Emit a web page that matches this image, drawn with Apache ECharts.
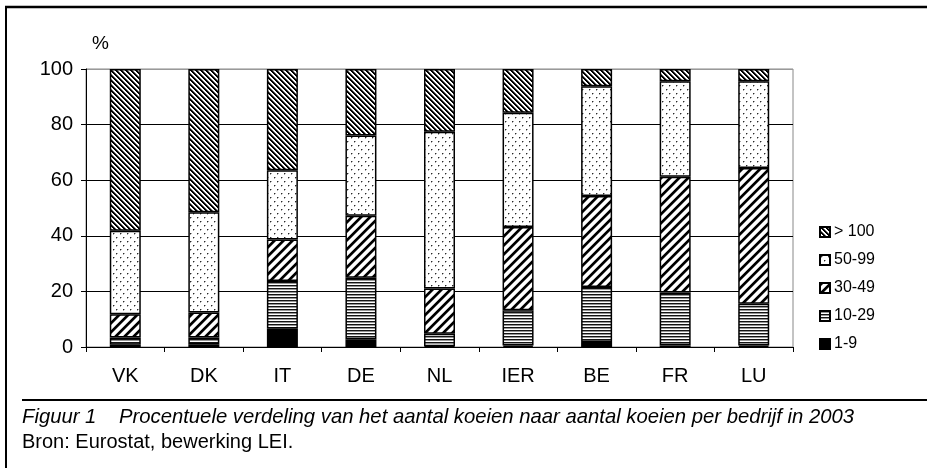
<!DOCTYPE html>
<html><head><meta charset="utf-8">
<script src="https://cdn.jsdelivr.net/npm/echarts@6/dist/echarts.min.js"></script>
<style>html,body{margin:0;padding:0;background:#fff}#c{width:927px;height:468px}</style>
</head><body><div id="c"></div>
<script>
const categories = ['VK','DK','IT','DE','NL','IER','BE','FR','LU'];
const s1_9    = [0.8, 1.0, 6.6, 2.8, 0.3, 0.5, 1.8, 0.6, 0.5];
const s10_29  = [2.6, 2.4, 17.1, 22.1, 4.5, 12.7, 19.8, 19.0, 15.1];
const s30_49  = [8.4, 9.0, 15.0, 22.3, 16.2, 30.0, 32.7, 41.6, 48.8];
const s50_99  = [30.0, 36.1, 24.9, 28.9, 56.4, 41.1, 39.5, 34.4, 31.2];
const s100    = [58.2, 51.5, 36.4, 23.9, 22.6, 15.7, 6.2, 4.4, 4.4];
const seriesNames = ['1-9','10-29','30-49','50-99','> 100'];
const legendOrder = ['> 100','50-99','30-49','10-29','1-9'];

const FONT = "'Liberation Sans', Arial, sans-serif";

function tile(w,h,fn){
  const c=document.createElement('canvas'); c.width=w; c.height=h;
  const g=c.getContext('2d'); const img=g.createImageData(w,h);
  for(let y=0;y<h;y++)for(let x=0;x<w;x++){
    const v=fn(x,y); const i=(y*w+x)*4;
    img.data[i]=img.data[i+1]=img.data[i+2]=v; img.data[i+3]=255;
  }
  g.putImageData(img,0,0); return {image:c, repeat:'repeat'};
}
const patBack = tile(5,5,(x,y)=>{const d=((x-y)%5+5)%5; return d<2?0:(d==2?110:255);});
const patFwd  = tile(9,9,(x,y)=>{const d=(x+y)%9; return d<3?0:(d==3?120:(d==8?180:255));});
const patDots = tile(7,8,(x,y)=>{
  if((x==1&&y==1)||(x==4&&y==5)) return 40;
  if((x==2&&y==1)||(x==1&&y==2)||(x==5&&y==5)||(x==4&&y==6)) return 170;
  return 255;
});
const patHorz = tile(4,3,(x,y)=>y==0?20:(y==1?150:255));
const fills = ['#000', patHorz, patFwd, patDots, patBack];
const dataSets = [s1_9, s10_29, s30_49, s50_99, s100];

const chart = echarts.init(document.getElementById('c'), null, {renderer:'canvas'});
chart.setOption({
  animation:false,
  textStyle:{fontFamily:FONT},
  grid:{left:86, right:134, top:69, bottom:121, show:true, borderColor:'#888', borderWidth:1},
  legend:{
    orient:'vertical', left:814, top:219,
    data:legendOrder, icon:'rect',
    itemWidth:10, itemHeight:10, itemGap:12,
    textStyle:{fontSize:16, color:'#000', fontFamily:FONT, padding:[0,0,0,-1]}
  },
  xAxis:{
    type:'category', data:categories,
    axisLine:{lineStyle:{color:'#000', width:1}},
    axisTick:{show:true, length:5, lineStyle:{color:'#000'}},
    axisLabel:{color:'#000', fontSize:20, margin:19}
  },
  yAxis:{
    type:'value', min:0, max:100, interval:20,
    name:'%', nameLocation:'end', nameGap:16,
    nameTextStyle:{color:'#000', fontSize:19, align:'left', padding:[0,0,0,6]},
    axisLine:{show:true, lineStyle:{color:'#000'}},
    axisTick:{show:true, length:5, lineStyle:{color:'#000'}},
    axisLabel:{color:'#000', fontSize:20, margin:13},
    splitLine:{show:true, lineStyle:{color:['#000','#000','#000','#000','#000','#999'], width:1}}
  },
  series: seriesNames.map((n,i)=>({
    name:n, type:'bar', stack:'t', barWidth:31,
    data:dataSets[i],
    itemStyle:{color:fills[i], borderColor:'#000', borderWidth:1.5}
  })),
  graphic:[
    {type:'line', shape:{x1:6,y1:6,x2:6,y2:468}, style:{stroke:'#000', lineWidth:2}},
    {type:'line', shape:{x1:5,y1:7,x2:927,y2:7}, style:{stroke:'#000', lineWidth:2.5}},
    {type:'line', shape:{x1:22,y1:400,x2:927,y2:400}, style:{stroke:'#000', lineWidth:2}},
    {type:'text', left:22, top:407, style:{text:'Figuur 1    Procentuele verdeling van het aantal koeien naar aantal koeien per bedrijf in 2003', font:'italic 20.3px '+FONT, fill:'#000'}},
    {type:'text', left:22, top:432, style:{text:'Bron: Eurostat, bewerking LEI.', font:'20px '+FONT, fill:'#000'}}
  ]
});
</script></body></html>
